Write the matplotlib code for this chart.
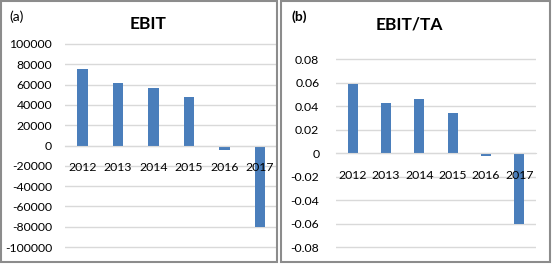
import matplotlib
matplotlib.use('Agg')
import matplotlib.pyplot as plt
from matplotlib.patches import Rectangle

# data
years = ['2012', '2013', '2014', '2015', '2016', '2017']
ebit = [75000, 61500, 56600, 47400, -4700, -80000]
ebit_ta = [0.059, 0.043, 0.0465, 0.0346, -0.0025, -0.060]
ebit_ticks = [-100000, -80000, -60000, -40000, -20000, 0, 20000, 40000, 60000, 80000, 100000]
ratio_ticks = [-0.08, -0.06, -0.04, -0.02, 0, 0.02, 0.04, 0.06, 0.08]
ratio_labels = ['-0.08', '-0.06', '-0.04', '-0.02', '0', '0.02', '0.04', '0.06', '0.08']

plt.rcParams['font.family'] = ['Lato', 'DejaVu Sans']

W, H = 552, 264
fig = plt.figure(figsize=(W / 100, H / 100), dpi=100)
bar_color = '#4a7ebb'
grid_color = '#d9d9d9'


def px_axes(x0, x1, y_top, y_bot):
    return fig.add_axes([x0 / W, 1 - y_bot / H, (x1 - x0) / W, (y_bot - y_top) / H])


def style(ax, ticks, labels):
    ax.set_yticks(ticks)
    ax.set_yticklabels(labels)
    ax.grid(axis='y', color=grid_color, linewidth=1)
    ax.set_axisbelow(True)
    for s in ['left', 'right', 'top']:
        ax.spines[s].set_visible(False)
    ax.spines['bottom'].set_position(('data', 0))
    ax.spines['bottom'].set_color(grid_color)
    ax.tick_params(axis='y', length=0, labelsize=8.8, pad=9, colors='#000000')
    ax.set_xticks([])
    # category labels sit just under the zero line, drawn over the bars
    for i, y in enumerate(years):
        ax.annotate(y, (i, 0), xytext=(0, -16), textcoords='offset points',
                    ha='center', va='center', fontsize=8.8, zorder=5,
                    annotation_clip=False)


# panel (a)
ax1 = px_axes(64.7, 276, 33.8, 257.2)
ax1.bar(range(len(years)), ebit, width=0.29, color=bar_color)
ax1.set_xlim(-0.5, 5.45)
ax1.set_ylim(-110000, 110000)
style(ax1, ebit_ticks, [str(t) for t in ebit_ticks])

# panel (b)
ax2 = px_axes(336, 536, 47.5, 259)
ax2.bar(range(len(years)), ebit_ta, width=0.3, color=bar_color)
ax2.set_xlim(-0.5, 5.5)
ax2.set_ylim(-0.09, 0.09)
style(ax2, ratio_ticks, ratio_labels)
ax2.tick_params(axis='y', pad=12)

fig.text(148 / W, 1 - 24 / H, 'EBIT', ha='center', va='center', fontsize=12.5, fontweight='bold')
fig.text(409 / W, 1 - 24 / H, 'EBIT/TA', ha='center', va='center', fontsize=12.5, fontweight='bold')
fig.text(9 / W, 1 - 17 / H, '(a)', ha='left', va='center', fontsize=10)
fig.text(291 / W, 1 - 17 / H, '(b)', ha='left', va='center', fontsize=10, fontweight='bold')

# panel frames
for x0, x1 in [(1, 277), (281, 550)]:
    fig.patches.append(Rectangle((x0 / W, 1 - 262 / H), (x1 - x0) / W, 261 / H,
                                 transform=fig.transFigure, fill=False,
                                 edgecolor='#8c8c8c', linewidth=1.5))

fig.savefig('out.png', dpi=100)
